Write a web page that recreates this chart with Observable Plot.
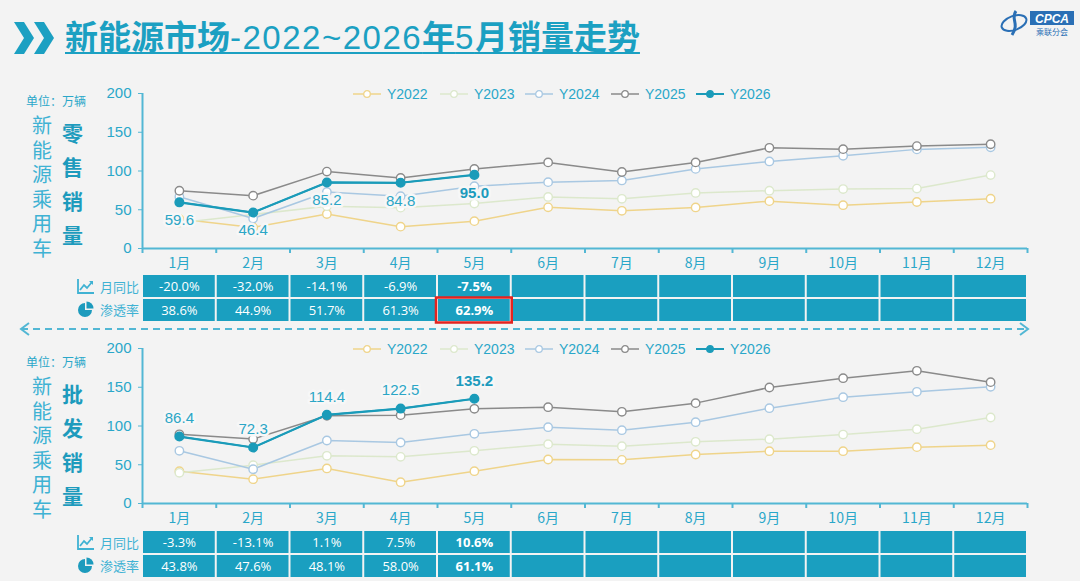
<!DOCTYPE html>
<html><head><meta charset="utf-8">
<script src="https://cdn.jsdelivr.net/npm/d3@7"></script>
<script src="https://cdn.jsdelivr.net/npm/@observablehq/plot@0.6"></script>
<style>
html,body{margin:0;padding:0;}
body{width:1080px;height:581px;overflow:hidden;background:#f3f3f3;position:relative;font-family:"Liberation Sans","Noto Sans CJK SC",sans-serif;}
.abs{position:absolute;}
.title{left:65px;top:13px;font-family:"Noto Sans CJK SC";font-size:33px;font-weight:700;color:#1ba0c2;text-decoration:underline;text-decoration-thickness:2px;text-underline-offset:3px;white-space:nowrap;line-height:44px;}
.title .n{font-family:"Liberation Sans";font-weight:400;letter-spacing:1.5px;}
.unit{font-family:"Noto Sans CJK SC";font-size:12px;color:#2aa7c9;white-space:nowrap;}
.vt{font-family:"Noto Sans CJK SC";width:1em;text-align:center;}
.v1{font-size:20px;line-height:24.5px;color:#3fb2d3;}
.v2{font-size:21px;line-height:34px;color:#1d9bbd;font-weight:700;}
.leg{font-size:14px;color:#2aa7c9;display:flex;align-items:center;white-space:nowrap;}
.rowlab{font-family:"Noto Sans CJK SC";font-size:13px;color:#3fb2d3;display:flex;align-items:center;gap:6px;white-space:nowrap;}
</style></head>
<body>
<script>
// ---------- data ----------
const months = ["1月","2月","3月","4月","5月","6月","7月","8月","9月","10月","11月","12月"];
const seriesNames = ["Y2022","Y2023","Y2024","Y2025","Y2026"];
const seriesColors = ["#efd48a","#dce8cc","#a9c8e2","#8a8a8a","#1a9bb9"];

const retail2022 = [38.2, 27.2, 44.5, 28.2, 35.3, 53.1, 48.6, 53.0, 61.1, 55.9, 60.0, 64.3];
const retail2023 = [33.2, 43.9, 54.6, 52.7, 58.0, 66.5, 64.1, 71.7, 74.6, 76.7, 77.3, 94.7];
const retail2024 = [66.8, 38.8, 72.9, 67.4, 80.4, 85.6, 87.8, 102.7, 112.3, 119.6, 127.9, 130.5];
const retail2025 = [74.5, 68.2, 99.2, 91.1, 102.7, 111.1, 98.7, 111.1, 129.9, 128.2, 132.1, 134.5];
const retail2026 = [59.6, 46.4, 85.2, 84.8, 95.0];

const whole2022 = [41.7, 31.4, 45.2, 27.5, 41.7, 56.8, 56.3, 63.2, 67.5, 67.5, 72.7, 75.3];
const whole2023 = [39.6, 49.5, 61.5, 60.2, 68.0, 76.6, 74.0, 79.6, 83.0, 89.0, 95.9, 111.0];
const whole2024 = [68.0, 44.3, 81.3, 78.7, 89.9, 98.5, 94.6, 104.9, 123.0, 137.2, 144.1, 150.5];
const whole2025 = [89.3, 83.2, 113.2, 114.0, 122.2, 124.3, 118.3, 129.5, 149.7, 161.7, 171.2, 156.6];
const whole2026 = [86.4, 72.3, 114.4, 122.5, 135.2];

const tableRows = ["月同比","渗透率"];
const retailYoY = ["-20.0%","-32.0%","-14.1%","-6.9%","-7.5%"];
const retailPen = ["38.6%","44.9%","51.7%","61.3%","62.9%"];
const wholeYoY = ["-3.3%","-13.1%","1.1%","7.5%","10.6%"];
const wholePen = ["43.8%","47.6%","48.1%","58.0%","61.1%"];
const yTicks = [0,50,100,150,200];

// ---------- helpers ----------
const TEAL = "#1a9bb9", AXIS = "#52b7d4", TXT = "#2aa7c9";
const FONT = '"Liberation Sans","Noto Sans CJK SC",sans-serif';
const monthIdx = months.map((m,i)=>i+1);
const bounds = [0.5, ...monthIdx.map(i=>i+0.5)];
const common = {width:1080, marginLeft:142, marginRight:53};

function place(node, left, top){ node.style.position="absolute"; node.style.left=left+"px"; node.style.top=top+"px"; document.body.appendChild(node); return node; }
function div(cls, html, left, top){ const d=document.createElement("div"); d.className="abs "+cls; d.innerHTML=html; d.style.left=left+"px"; d.style.top=top+"px"; document.body.appendChild(d); return d; }

function lineChart(valuesList, labelDy){
  const rows = [];
  valuesList.forEach((vals,k)=>vals.forEach((v,i)=>rows.push({year:seriesNames[k], m:i+1, v})));
  const hollow = rows.filter(d=>d.year!=="Y2026");
  const cur = rows.filter(d=>d.year==="Y2026");
  const last = cur.length;
  return Plot.plot({
    ...common, height:190, marginTop:8, marginBottom:27,
    style:{background:"transparent", fontFamily:FONT, color:TXT, overflow:"visible"},
    x:{type:"linear", domain:[0.5,12.5]},
    y:{domain:[0,200]},
    color:{domain:seriesNames, range:seriesColors},
    marks:[
      Plot.axisY({ticks:yTicks, tickSize:4, tickPadding:7, fontSize:15, stroke:AXIS, fill:TXT, label:null}),
      Plot.axisX({ticks:bounds, tickSize:5, tickFormat:()=>"", stroke:AXIS, strokeWidth:2, label:null}),
      Plot.axisX({ticks:monthIdx, tickSize:0, tickPadding:10, tickFormat:i=>months[i-1], fontSize:14, fill:TXT, fontFamily:'"Noto Sans CJK SC"', label:null}),
      Plot.ruleY([0], {stroke:AXIS, strokeWidth:2}),
      Plot.ruleX([0.5], {stroke:AXIS, strokeWidth:2}),
      Plot.line(rows, {x:"m", y:"v", z:"year", stroke:"year", strokeWidth:1.5}),
      Plot.line(cur, {x:"m", y:"v", stroke:TEAL, strokeWidth:2.2}),
      Plot.dot(hollow, {x:"m", y:"v", stroke:"year", fill:"white", r:4.2, strokeWidth:1.4}),
      Plot.dot(cur, {x:"m", y:"v", fill:TEAL, stroke:TEAL, r:4.3}),
      Plot.text(cur.slice(0,last-1), {x:"m", y:"v", text:d=>d.v.toFixed(1), dy:labelDy, fill:"#2ba6c6", fontSize:15, stroke:"#f7f7f7", strokeWidth:5}),
      Plot.text(cur.slice(last-1), {x:"m", y:"v", text:d=>d.v.toFixed(1), dy:labelDy, fill:"#1d9bbd", fontSize:15, fontWeight:"bold", stroke:"#f7f7f7", strokeWidth:5})
    ]
  });
}

function tableChart(yoy, pen, highlight){
  const cells = [];
  tableRows.forEach((r,ri)=>monthIdx.forEach(m=>{
    const arr = ri===0 ? yoy : pen;
    cells.push({row:r, m, label: m<=arr.length ? arr[m-1] : ""});
  }));
  const lastM = yoy.length;
  const hl = highlight ? cells.filter(d=>d.row===tableRows[1] && d.m===lastM) : [];
  return Plot.plot({
    ...common, height:48, marginTop:0, marginBottom:0,
    style:{background:"transparent", fontFamily:'"Open Sans","Noto Sans",sans-serif', overflow:"visible"},
    x:{type:"linear", domain:[0.5,12.5], axis:null},
    y:{type:"band", domain:tableRows, paddingInner:0.07, paddingOuter:0.02, axis:null},
    marks:[
      Plot.barX(cells, {x1:d=>d.m-0.5, x2:d=>d.m+0.5, y:"row", fill:"#1a9fc0", insetLeft:1, insetRight:1}),
      Plot.text(cells.filter(d=>d.m!==lastM), {x:"m", y:"row", text:"label", fill:"white", fontSize:13}),
      Plot.text(cells.filter(d=>d.m===lastM), {x:"m", y:"row", text:"label", fill:"white", fontSize:13, fontWeight:"bold"}),
      Plot.barX(hl, {x1:d=>d.m-0.5, x2:d=>d.m+0.5, y:"row", fill:"none", stroke:"#e3231f", strokeWidth:2.5, insetLeft:-1, insetRight:-1, insetTop:-1.5, insetBottom:-1.5})
    ]
  });
}

function legend(top){
  const xs = [353,440,525,611,696];
  seriesNames.forEach((n,k)=>{
    const filled = n==="Y2026";
    const c = seriesColors[k];
    const sym = `<svg width="28" height="10" style="margin-right:6px"><line x1="0" y1="5" x2="28" y2="5" stroke="${c}" stroke-width="${filled?2:1.5}"/><circle cx="14" cy="5" r="3.3" fill="${filled?c:'white'}" stroke="${c}" stroke-width="1.3"/></svg>`;
    div("leg", sym+n, xs[k], top);
  });
}

function leftLabels(top, word2){
  div("unit", "单位：万辆", 26, top);
  div("vt v1", "新能源乘用车", 32, top+21);
  div("vt v2", word2, 62, top+23);
}

function rowLabels(top){
  const icon1 = `<svg width="17" height="15" viewBox="0 0 17 15"><path d="M1 0 V14 H17" fill="none" stroke="#3fb2d3" stroke-width="1.8"/><path d="M3 11 L7 6 L10 9 L15 3" fill="none" stroke="#3fb2d3" stroke-width="1.8"/><path d="M12 2 L16 2 L16 6 Z" fill="#3fb2d3"/></svg>`;
  const icon2 = `<svg width="17" height="17" viewBox="0 0 17 17"><path d="M8 2 A7 7 0 1 0 15 9 L8 9 Z" fill="#1d9bbd"/><path d="M9.5 0.5 A7 7 0 0 1 16.5 7.5 L9.5 7.5 Z" fill="#1d9bbd"/></svg>`;
  div("rowlab", icon1+"月同比", 77, top+3);
  div("rowlab", icon2+"渗透率", 77, top+26);
}

// ---------- header ----------
document.body.insertAdjacentHTML("beforeend", `
<svg class="abs" style="left:14px;top:22px" width="44" height="32" viewBox="0 0 44 32">
  <polygon points="0,0 10,0 20,16 10,32 0,32 10,16" fill="#1ba0c2"/>
  <polygon points="20,0 30,0 40,16 30,32 20,32 30,16" fill="#1ba0c2"/>
</svg>
<div class="abs title">新能源市场<span class="n">-2022~2026</span>年<span class="n">5</span>月销量走势</div>
<svg class="abs" style="left:1000px;top:7px" width="78" height="32" viewBox="0 0 78 32">
  <ellipse cx="14" cy="16" rx="13" ry="7" fill="none" stroke="#2a6fb5" stroke-width="2" transform="rotate(-20 14 16)"/>
  <path d="M16 4 C10 12 20 16 12 28" fill="none" stroke="#2a6fb5" stroke-width="3"/>
  <rect x="30" y="4" width="44" height="14" fill="#2a6fb5"/>
  <text x="52" y="15.5" text-anchor="middle" font-family="Liberation Sans" font-style="italic" font-weight="bold" font-size="12" fill="white">CPCA</text>
  <text x="52" y="28" text-anchor="middle" font-family="Noto Sans CJK SC" font-size="8" fill="#2a6fb5">乘联分会</text>
</svg>
<svg class="abs" style="left:18px;top:321px" width="1014" height="16" viewBox="0 0 1014 16">
  <line x1="3" y1="8" x2="1009" y2="8" stroke="#52b7d4" stroke-width="2" stroke-dasharray="7,5"/>
  <polyline points="11,2 3,8 11,14" fill="none" stroke="#52b7d4" stroke-width="2"/>
  <polyline points="1002,2 1010,8 1002,14" fill="none" stroke="#52b7d4" stroke-width="2"/>
</svg>`);

// ---------- charts ----------
place(lineChart([retail2022,retail2023,retail2024,retail2025,retail2026], 18), 0, 85);
place(tableChart(retailYoY, retailPen, true), 0, 274);
place(lineChart([whole2022,whole2023,whole2024,whole2025,whole2026], -18), 0, 340);
place(tableChart(wholeYoY, wholePen, false), 0, 530);

legend(86);
legend(341);
leftLabels(92, "零售销量");
leftLabels(353, "批发销量");
rowLabels(274);
rowLabels(530);
</script>
</body></html>
